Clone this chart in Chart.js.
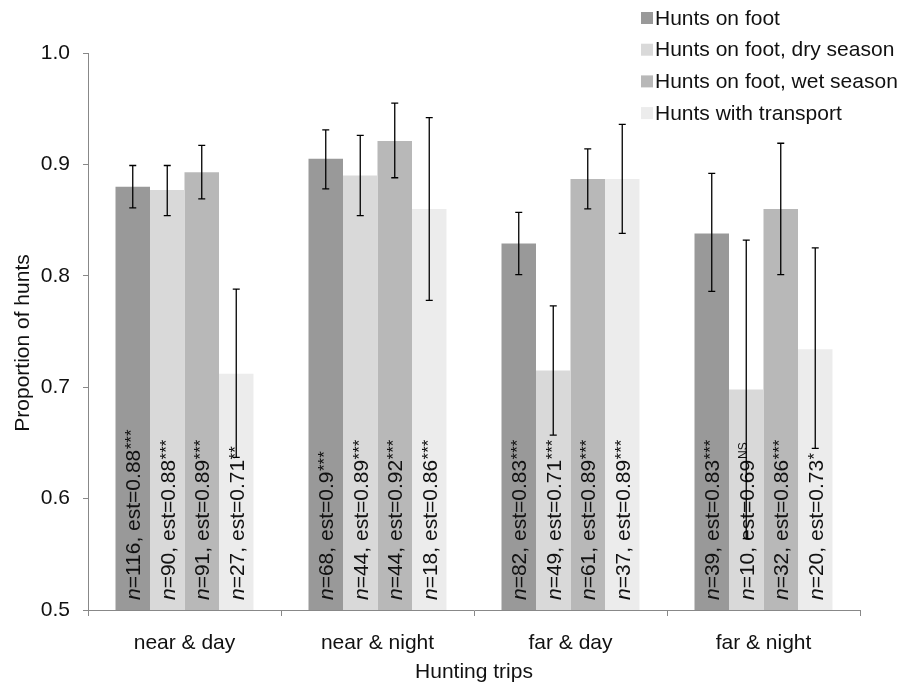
<!DOCTYPE html>
<html>
<head>
<meta charset="utf-8">
<script src="https://cdn.jsdelivr.net/npm/chart.js@4.4.0/dist/chart.umd.min.js"></script>
<style>
  body { margin: 0; background: #fff; }
  #wrap { width: 901px; height: 686px; }
</style>
</head>
<body>
<div id="wrap"><canvas id="huntChart"></canvas></div>
<script>
const categories = ['near & day', 'near & night', 'far & day', 'far & night'];
const seriesNames = ['Hunts on foot', 'Hunts on foot, dry season', 'Hunts on foot, wet season', 'Hunts with transport'];
const yTickLabels = ['0.5', '0.6', '0.7', '0.8', '0.9', '1.0'];
const yTitle = 'Proportion of hunts';

// bar heights (proportion of hunts)
const onFoot = [0.880, 0.905, 0.829, 0.838];
const onFootDry = [0.877, 0.890, 0.715, 0.698];
const onFootWet = [0.893, 0.921, 0.887, 0.860];
const withTransport = [0.712, 0.860, 0.887, 0.734];

// error bar ends
const onFootLow = [0.861, 0.878, 0.801, 0.786];
const onFootHigh = [0.899, 0.931, 0.857, 0.892];
const dryLow = [0.854, 0.854, 0.657, 0.564];
const dryHigh = [0.899, 0.926, 0.773, 0.832];
const wetLow = [0.869, 0.888, 0.860, 0.801];
const wetHigh = [0.917, 0.955, 0.914, 0.919];
const transportLow = [0.637, 0.778, 0.838, 0.645];
const transportHigh = [0.788, 0.942, 0.936, 0.825];

// text inside the bars
const onFootN = [116, 68, 82, 39];
const dryN = [90, 44, 49, 10];
const wetN = [91, 44, 61, 32];
const transportN = [27, 18, 37, 20];
const onFootEst = ['0.88', '0.9', '0.83', '0.83'];
const dryEst = ['0.88', '0.89', '0.71', '0.69'];
const wetEst = ['0.89', '0.92', '0.89', '0.86'];
const transportEst = ['0.71', '0.86', '0.89', '0.73'];
const onFootSig = ['***', '***', '***', '***'];
const drySig = ['***', '***', '***', 'NS'];
const wetSig = ['***', '***', '***', '***'];
const transportSig = ['**', '***', '***', '*'];

const colors = ['#999999', '#d9d9d9', '#b8b8b8', '#ececec'];
const FONT = '"Liberation Sans", Arial, Helvetica, sans-serif';

function makeSet(i, data, low, high, n, est, sig) {
    return {
        label: seriesNames[i],
        data: data,
        backgroundColor: colors[i],
        borderWidth: 0,
        low: low, high: high, n: n, est: est, sig: sig
    };
}

const annotate = {
    id: 'annotate',
    afterDatasetsDraw(chart) {
        const ctx = chart.ctx;
        const ys = chart.scales.y;
        const bottom = chart.chartArea.bottom;
        chart.data.datasets.forEach((ds, i) => {
            chart.getDatasetMeta(i).data.forEach((bar, j) => {
                // rotated label
                ctx.save();
                ctx.translate(bar.x + 7.5, bottom - 10);
                ctx.rotate(-Math.PI / 2);
                ctx.fillStyle = '#111';
                ctx.textAlign = 'left';
                ctx.textBaseline = 'alphabetic';
                ctx.font = 'italic 21px ' + FONT;
                ctx.fillText('n', 0, 0);
                let w = ctx.measureText('n').width;
                const body = '=' + ds.n[j] + ', est=' + ds.est[j];
                ctx.font = '21px ' + FONT;
                ctx.fillText(body, w, 0);
                w += ctx.measureText(body).width;
                if (ds.sig[j] === 'NS') {
                    ctx.font = '12px ' + FONT;
                    ctx.fillText(ds.sig[j], w + 1, -6.5);
                } else {
                    ctx.font = '17px ' + FONT;
                    ctx.fillText(ds.sig[j], w + 0.5, -3);
                }
                ctx.restore();

                // error bar
                const yl = ys.getPixelForValue(ds.low[j]);
                const yh = ys.getPixelForValue(ds.high[j]);
                ctx.save();
                ctx.strokeStyle = '#000';
                ctx.lineWidth = 1.3;
                ctx.beginPath();
                ctx.moveTo(bar.x, yl); ctx.lineTo(bar.x, yh);
                ctx.moveTo(bar.x - 3.5, yl); ctx.lineTo(bar.x + 3.5, yl);
                ctx.moveTo(bar.x - 3.5, yh); ctx.lineTo(bar.x + 3.5, yh);
                ctx.stroke();
                ctx.restore();
            });
        });
    },
    afterDraw(chart) {
        const ctx = chart.ctx;
        ctx.save();
        ctx.font = '21px ' + FONT;
        ctx.textAlign = 'left';
        ctx.textBaseline = 'middle';
        chart.data.datasets.forEach((ds, i) => {
            const cy = 18 + i * 31.7;
            ctx.fillStyle = ds.backgroundColor;
            ctx.fillRect(641, cy - 6, 12, 12);
            ctx.fillStyle = '#111';
            ctx.fillText(ds.label, 655, cy + 1);
        });
        // y axis title
        ctx.translate(23, 343);
        ctx.rotate(-Math.PI / 2);
        ctx.textAlign = 'center';
        ctx.fillText(yTitle, 0, 0);
        ctx.restore();
    }
};

const chart = new Chart(document.getElementById('huntChart'), {
    type: 'bar',
    data: {
        labels: categories,
        datasets: [
            makeSet(0, onFoot, onFootLow, onFootHigh, onFootN, onFootEst, onFootSig),
            makeSet(1, onFootDry, dryLow, dryHigh, dryN, dryEst, drySig),
            makeSet(2, onFootWet, wetLow, wetHigh, wetN, wetEst, wetSig),
            makeSet(3, withTransport, transportLow, transportHigh, transportN, transportEst, transportSig)
        ]
    },
    options: {
        responsive: true,
        maintainAspectRatio: false,
        animation: false,
        layout: { padding: { top: 53, right: 41, bottom: 0, left: 0 } },
        datasets: { bar: { categoryPercentage: 0.715, barPercentage: 1.0 } },
        plugins: {
            legend: { display: false },
            tooltip: { enabled: false }
        },
        scales: {
            x: {
                afterFit: s => { s.height = 76; },
                grid: { drawOnChartArea: false, offset: true, tickLength: 6, color: '#888' },
                border: { color: '#888' },
                ticks: { color: '#111', font: { family: FONT, size: 21 }, padding: 15 },
                title: { display: true, text: 'Hunting trips', color: '#111',
                         font: { family: FONT, size: 21 }, padding: { top: 0, bottom: 1 } }
            },
            y: {
                min: 0.5,
                max: 1.0,
                afterFit: s => { s.width = 88; },
                grid: { drawOnChartArea: false, tickLength: 5, color: '#888' },
                border: { color: '#888' },
                ticks: {
                    stepSize: 0.1,
                    color: '#111',
                    padding: 13,
                    font: { family: FONT, size: 21 },
                    callback: (v, idx) => yTickLabels[idx]
                }
            }
        }
    },
    plugins: [annotate]
});
</script>
</body>
</html>
